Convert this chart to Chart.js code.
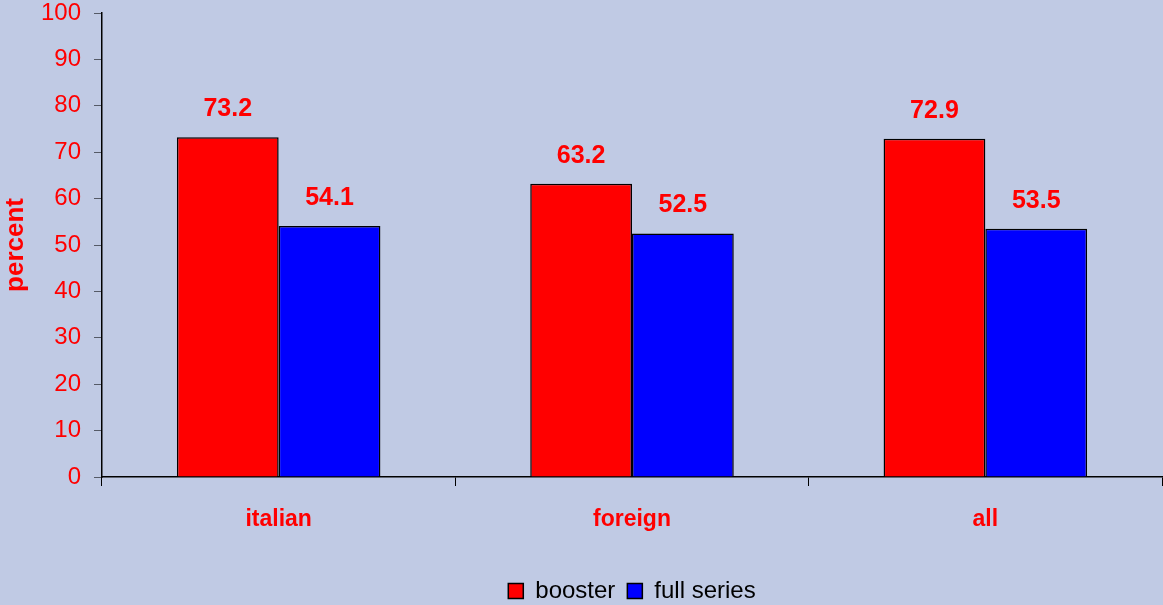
<!DOCTYPE html>
<html>
<head>
<meta charset="utf-8">
<script src="https://cdn.jsdelivr.net/npm/chart.js@4"></script>
<style>
  html, body { margin: 0; padding: 0; background: #c0cae4; }
  #wrap { width: 1163px; height: 605px; }
</style>
</head>
<body>
<div id="wrap"><canvas id="chart" width="1163" height="605"></canvas></div>
<script>
var categories = ['italian', 'foreign', 'all'];
var boosterValues = [73.2, 63.2, 72.9];
var fullSeriesValues = [54.1, 52.5, 53.5];
var seriesNames = ['booster', 'full series'];

var fontFamily = "'Liberation Sans', Arial, sans-serif";

// paint the whole canvas in the slide blue
var bgPlugin = {
  id: 'bg',
  beforeDraw: function(chart) {
    var ctx = chart.ctx;
    ctx.save();
    ctx.fillStyle = '#c0cae4';
    ctx.fillRect(0, 0, chart.width, chart.height);
    ctx.restore();
  }
};

// value labels above each bar
var valueLabels = {
  id: 'valueLabels',
  afterDatasetsDraw: function(chart) {
    var ctx = chart.ctx;
    ctx.save();
    ctx.fillStyle = '#ff0000';
    ctx.font = 'bold 25px ' + fontFamily;
    ctx.textAlign = 'center';
    ctx.textBaseline = 'middle';
    chart.data.datasets.forEach(function(ds, i) {
      chart.getDatasetMeta(i).data.forEach(function(bar, j) {
        ctx.fillText(ds.data[j].toFixed(1), bar.x, bar.y - 28);
      });
    });
    ctx.restore();
  }
};

var ctx = document.getElementById('chart').getContext('2d');
new Chart(ctx, {
  type: 'bar',
  data: {
    labels: categories,
    datasets: [
      {
        label: seriesNames[0],
        data: boosterValues,
        backgroundColor: '#ff0000',
        borderColor: '#000000',
        borderWidth: 1.5
      },
      {
        label: seriesNames[1],
        data: fullSeriesValues,
        backgroundColor: '#0000ff',
        borderColor: '#000000',
        borderWidth: 1.5
      }
    ]
  },
  options: {
    responsive: false,
    animation: false,
    devicePixelRatio: 1,
    layout: { padding: { top: 13, right: 1, left: 0, bottom: -8 } },
    datasets: {
      bar: { barPercentage: 1, categoryPercentage: 0.576 }
    },
    plugins: {
      tooltip: { enabled: false },
      legend: {
        position: 'bottom',
        fullSize: false,
        labels: {
          color: '#000000',
          font: { family: fontFamily, size: 24 },
          boxWidth: 15,
          boxHeight: 15,
          padding: 12,
          generateLabels: function(chart) {
            return chart.data.datasets.map(function(ds, i) {
              return {
                text: ds.label,
                fillStyle: ds.backgroundColor,
                strokeStyle: '#000000',
                lineWidth: 1.5,
                datasetIndex: i
              };
            });
          }
        }
      }
    },
    scales: {
      x: {
        grid: {
          offset: true,
          drawOnChartArea: false,
          drawTicks: true,
          tickLength: 9,
          color: '#000000'
        },
        border: { color: '#000000', width: 1.5 },
        ticks: {
          color: '#ff0000',
          font: { family: fontFamily, size: 23, weight: 'bold' },
          padding: 20
        },
        afterFit: function(scale) { scale.height = 90; }
      },
      y: {
        min: 0,
        max: 100,
        ticks: {
          stepSize: 10,
          color: '#ff0000',
          font: { family: fontFamily, size: 24 },
          padding: 13
        },
        grid: {
          drawOnChartArea: false,
          tickLength: 8,
          color: '#555a66'
        },
        border: { color: '#000000', width: 1.5 },
        title: {
          display: true,
          text: 'percent',
          color: '#ff0000',
          font: { family: fontFamily, size: 26, weight: 'bold' },
          padding: { top: 0, bottom: 0 }
        },
        afterFit: function(scale) {
          scale.width = 102;
          scale.paddingTop = 0;
          scale.paddingBottom = 0;
        }
      }
    }
  },
  plugins: [bgPlugin, valueLabels]
});
</script>
</body>
</html>
